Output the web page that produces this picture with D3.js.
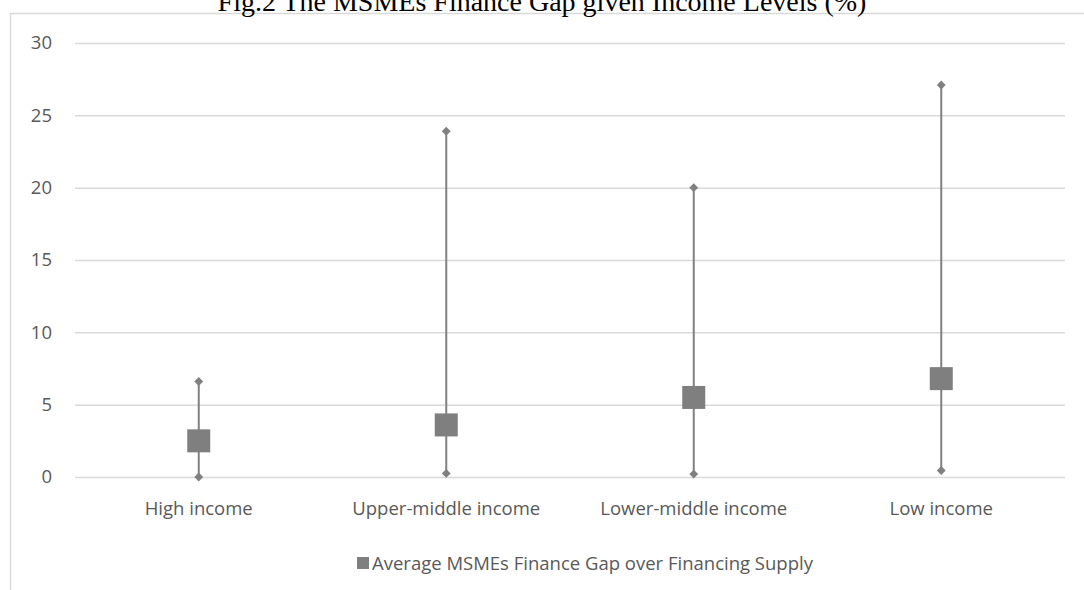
<!DOCTYPE html>
<html>
<head>
<meta charset="utf-8">
<script src="https://cdn.jsdelivr.net/npm/d3@7"></script>
<style>
	body { margin: 0; background: #fff; }
	svg { display: block; }
	.tick text, .cat, .legend { font-family: "Open Sans", sans-serif; fill: #595959; }
</style>
</head>
<body>
<svg id="chart" width="1084" height="590"></svg>
<script>
// data
var categories = ["High income", "Upper-middle income", "Lower-middle income", "Low income"];
var highValues = [6.6, 23.9, 20.0, 27.1];
var lowValues  = [0.0, 0.25, 0.2, 0.45];
var avgValues  = [2.5, 3.6, 5.5, 6.8];
var yTicks = [0, 5, 10, 15, 20, 25, 30];
var legendLabel = "Average MSMEs Finance Gap over Financing Supply";
var title = "Fig.2 The MSMEs Finance Gap given Income Levels (%)";

var svg = d3.select("#chart");
var plot = { left: 75, right: 1065, top: 43, bottom: 477 };
var labelSize = "18.5px";

var x = d3.scaleBand()
			.domain(categories)
			.range([plot.left, plot.right]);
var y = d3.scaleLinear()
			.domain([0, 30])
			.range([plot.bottom, plot.top]);

var rows = categories.map(function(c, i){
	return { cat: c, high: highValues[i], low: lowValues[i], avg: avgValues[i] };
});

// chart frame (only left and top edges visible)
svg.append("path")
	.attr("d", "M10.5,590 L10.5,13.5 L1084,13.5")
	.attr("fill", "none")
	.attr("stroke", "#d9d9d9")
	.attr("stroke-width", 1.5);

// title, clipped at the top
svg.append("text")
	.attr("x", 542)
	.attr("y", 11)
	.attr("text-anchor", "middle")
	.style("font-family", "'Liberation Serif', 'Times New Roman', serif")
	.style("font-size", "28px")
	.style("fill", "#000")
	.text(title);

// y axis with gridlines
var yAxis = d3.axisLeft(y)
				.tickValues(yTicks)
				.tickSize(-(plot.right - plot.left))
				.tickPadding(23);
var gy = svg.append("g")
			.attr("transform", "translate(" + plot.left + ",0)")
			.call(yAxis);
gy.select(".domain").remove();
gy.selectAll(".tick line").attr("stroke", "#d9d9d9").attr("stroke-width", 1.5);
gy.selectAll(".tick text").style("font-size", labelSize);

// category labels
svg.selectAll(".cat")
	.data(categories)
	.enter()
	.append("text")
	.attr("class", "cat")
	.attr("x", function(d){ return x(d) + x.bandwidth() / 2; })
	.attr("y", 515)
	.attr("text-anchor", "middle")
	.style("font-size", labelSize)
	.text(function(d){ return d; });

var grey = "#808080";
var g = svg.selectAll(".item")
			.data(rows)
			.enter()
			.append("g")
			.attr("transform", function(d){ return "translate(" + (x(d.cat) + x.bandwidth() / 2) + ",0)"; });

g.append("line")
	.attr("y1", function(d){ return y(d.low); })
	.attr("y2", function(d){ return y(d.high); })
	.attr("stroke", grey)
	.attr("stroke-width", 2);

var diamond = d3.symbol().type(d3.symbolDiamond2).size(50);
g.append("path")
	.attr("d", diamond)
	.attr("transform", function(d){ return "translate(0," + y(d.high) + ")"; })
	.attr("fill", grey);
g.append("path")
	.attr("d", diamond)
	.attr("transform", function(d){ return "translate(0," + y(d.low) + ")"; })
	.attr("fill", grey);

g.append("rect")
	.attr("x", -11.5)
	.attr("y", function(d){ return y(d.avg) - 11.5; })
	.attr("width", 23)
	.attr("height", 23)
	.attr("fill", "#7f7f7f");

// legend
svg.append("rect")
	.attr("x", 357)
	.attr("y", 557)
	.attr("width", 12)
	.attr("height", 12)
	.attr("fill", "#7f7f7f");
svg.append("text")
	.attr("class", "legend")
	.attr("x", 372)
	.attr("y", 570)
	.style("font-size", labelSize)
	.text(legendLabel);
</script>
</body>
</html>
